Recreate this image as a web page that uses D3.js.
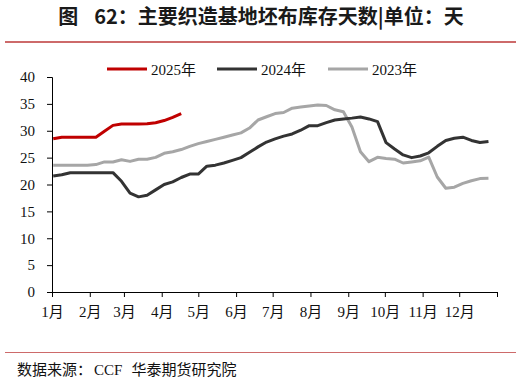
<!DOCTYPE html>
<html><head><meta charset="utf-8">
<script src="https://cdn.jsdelivr.net/npm/d3@7"></script>
<style>
html,body{margin:0;padding:0;background:#fff;}
svg{display:block;}
</style>
</head><body>
<svg id="chart" width="521" height="382"></svg>
<script>
// ---- data ----
const monthLabels = ["1月","2月","3月","4月","5月","6月","7月","8月","9月","10月","11月","12月"];
const monthStartDays = [0,31,59,90,120,151,181,212,243,273,304,334,365];
const yTicks = [0,5,10,15,20,25,30,35,40];
const seriesNames = ["2025年","2024年","2023年"];
const seriesColors = ["#c00000","#333333","#a6a6a6"];
// day of year of each weekly observation
const weekDays = [1,8,15,22,29,36,43,50,57,64,71,78,85,92,99,106,113,120,127,134,141,148,155,162,169,176,183,190,197,204,211,218,225,232,239,246,253,260,267,274,281,288,295,302,309,316,323,330,337,344,351,358];
const values2025 = [28.5,28.8,28.8,28.8,28.8,28.8,29.9,31.0,31.25,31.25,31.25,31.3,31.5,31.9,32.5,33.2];
const values2024 = [21.6,21.8,22.2,22.2,22.2,22.2,22.2,22.2,20.6,18.4,17.7,18.0,19.0,20.0,20.5,21.3,21.95,21.95,23.4,23.6,24.0,24.5,25.0,26.0,27.0,27.9,28.5,29.0,29.4,30.1,30.95,30.95,31.5,32.0,32.2,32.35,32.55,32.2,31.7,27.8,26.6,25.5,25.0,25.3,25.9,27.1,28.2,28.6,28.8,28.2,27.8,28.0];
const values2023 = [23.6,23.6,23.6,23.6,23.6,23.7,24.2,24.2,24.6,24.3,24.7,24.7,25.05,25.8,26.1,26.5,27.1,27.6,28.0,28.4,28.8,29.2,29.6,30.5,32.0,32.6,33.2,33.4,34.2,34.4,34.6,34.8,34.7,33.9,33.55,30.7,26.1,24.25,25.05,24.85,24.7,24.0,24.2,24.4,25.1,21.4,19.3,19.5,20.2,20.7,21.1,21.15];
const seriesValues = [values2025, values2024, values2023];

// ---- drawing ----
const svg = d3.select("#chart");
const serif = "'Liberation Serif','Times New Roman','Noto Sans CJK SC',serif";
const sans = "'Noto Sans CJK SC','Noto Sans',sans-serif";

const title = svg.append("text").attr("x",261).attr("y",24).attr("text-anchor","middle")
  .attr("font-family",sans).attr("font-weight","bold").attr("font-size",20).attr("fill","#1a1a1a");
title.append("tspan").text("图");
title.append("tspan").attr("dx",16).text("62：主要织造基地坯布库存天数|单位：天");

svg.append("line").attr("x1",5).attr("x2",516).attr("y1",42).attr("y2",42)
  .attr("stroke","#cd6a6a").attr("stroke-width",2);
svg.append("line").attr("x1",5).attr("x2",516).attr("y1",352.5).attr("y2",352.5)
  .attr("stroke","#cd6a6a").attr("stroke-width",1);
const src = svg.append("text").attr("x",17).attr("y",375).attr("font-size",15).attr("fill","#111");
src.append("tspan").attr("font-family",sans).text("数据来源：");
src.append("tspan").attr("font-family",serif).attr("dx",2).text("CCF");
src.append("tspan").attr("font-family",sans).attr("dx",9).text("华泰期货研究院");

const x = d3.scaleLinear().domain([0,365]).range([52,497]);
const y = d3.scaleLinear().domain([0,40]).range([292,77]);

const yAxis = svg.append("g").attr("transform","translate(52,0)")
  .call(d3.axisLeft(y).tickValues(yTicks).tickSize(5).tickPadding(12));
yAxis.select(".domain").attr("stroke","#000");
yAxis.selectAll(".tick line").attr("stroke","#000");
yAxis.selectAll("text").attr("font-family",serif).attr("font-size",15).attr("fill","#111");

const xAxis = svg.append("g").attr("transform","translate(0,292)")
  .call(d3.axisBottom(x).tickValues(monthStartDays).tickSize(5).tickSizeOuter(0)
    .tickFormat((d,i)=> monthLabels[i] || ""));
xAxis.select(".domain").attr("stroke","#000").attr("stroke-width",1.2);
xAxis.selectAll(".tick line").attr("stroke","#000");
xAxis.selectAll("text").attr("font-family",serif).attr("font-size",15).attr("fill","#111").attr("dy","1.15em");

const line = d3.line().x(d=>x(d[0])).y(d=>y(d[1])).curve(d3.curveLinear);
// draw 2023, 2024, 2025 order so 2025 is on top
[2,1,0].forEach(i=>{
  const pts = seriesValues[i].map((v,k)=>[weekDays[k], v]);
  svg.append("path").attr("d",line(pts)).attr("fill","none")
    .attr("stroke",seriesColors[i]).attr("stroke-width",3).attr("stroke-linejoin","round");
});

// legend
const legX = [107,217,328];
seriesNames.forEach((n,i)=>{
  svg.append("line").attr("x1",legX[i]).attr("x2",legX[i]+40).attr("y1",69).attr("y2",69)
    .attr("stroke",seriesColors[i]).attr("stroke-width",3);
  svg.append("text").attr("x",legX[i]+44).attr("y",74.5).attr("font-family",serif)
    .attr("font-size",15).attr("fill","#111").text(n);
});
</script>
</body></html>
